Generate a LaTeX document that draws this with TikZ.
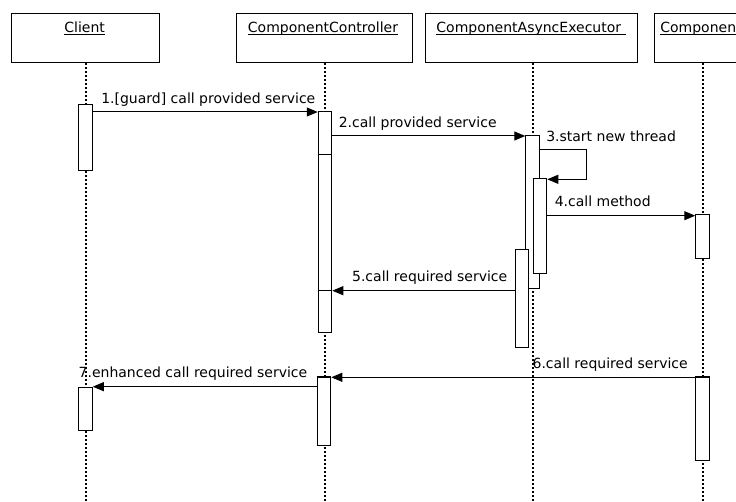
\documentclass[tikz,border=0pt]{standalone}
\usepackage{fontspec}
\setmainfont{DejaVu Sans}
\usepackage{tikz}
\usetikzlibrary{arrows.meta}

\begin{document}
\begin{tikzpicture}[x=1pt, y=-1pt,
	head/.style={draw, line width=1pt, minimum height=49pt, inner sep=0pt},
	act/.style={draw, fill=white, line width=1pt, minimum width=13.5pt, inner sep=0pt},
	life/.style={line width=1.4pt, dash pattern=on 2pt off 2pt},
	msg/.style={line width=1pt, -{Triangle[length=11pt,width=9pt]}},
	lbl/.style={font=\fontsize{14}{16}\selectfont, inner sep=0pt}]
	\useasboundingbox (0,0) rectangle (736,502);
	\clip (0,0) rectangle (736,502);
	% object boxes
	\node[head, minimum width=148pt] (hcl) at (85,38.5) {};
	\node[head, minimum width=176pt] (hcc) at (324,38.5) {};
	\node[head, minimum width=212pt] (hex) at (531,38.5) {};
	\node[head, minimum width=98pt] (hco) at (703,38.5) {};
	\node[lbl, anchor=base] (tcl) at (84.7,33) {\underline{\smash{Client}}};
	\node[lbl, anchor=base] (tcc) at (323,33) {\underline{\smash{ComponentController}}};
	\node[lbl, anchor=base] (tex) at (531,33) {\underline{\smash{ComponentAsyncExecutor\ }}};
	\node[lbl, anchor=base] (tco) at (701,33) {\underline{\smash{Component}}};
	% lifelines
	\coordinate (lcl) at (86,63);
	\coordinate (lcc) at (325,63);
	\coordinate (lex) at (533,63);
	\coordinate (lco) at (703,63);
	\draw[life] (lcl) -- (lcl |- 0,502);
	\draw[life] (lcc) -- (lcc |- 0,502);
	\draw[life] (lex) -- (lex |- 0,502);
	\draw[life] (lco) -- (lco |- 0,502);
	% activations
	\node[act, minimum height=66.7pt] (cl1) at (85.5,137.4) {};
	\node[act, minimum height=43pt] (cl2) at (85.5,408.5) {};
	\node[act, minimum height=43pt] (cc1) at (325,133.5) {};
	\node[act, minimum height=136pt] (cc2) at (325,223) {};
	\node[act, minimum height=42pt] (cc3) at (325,312) {};
	\node[act, minimum height=68pt] (cc4) at (324,411) {};
	\node[act, minimum height=153pt] (exA) at (532.5,212.5) {};
	\node[act, minimum height=95pt] (exB) at (540,226.5) {};
	\node[act, minimum height=98pt] (exC) at (522,299) {};
	\node[act, minimum height=44pt] (co1) at (702.5,237) {};
	\node[act, minimum height=83pt] (co2) at (702.5,418.5) {};
	% messages
	\draw[msg] (cl1.east |- 0,112) -- (cc1.west |- 0,112)
		node[lbl, at start, anchor=base west, xshift=8pt, yshift=8.5pt] {1.[guard] call provided service};
	\draw[msg] (cc1.east |- 0,136) -- (exA.west |- 0,136)
		node[lbl, at start, anchor=base west, xshift=6pt, yshift=8.5pt] {2.call provided service};
	\draw[msg] (exA.east |- 0,149.3)
		node[lbl, anchor=base west, xshift=6pt, yshift=7.6pt] {3.start new thread}
		-- ++(47,0) |- (exB.east |- 0,179.3);
	\draw[msg] (exB.east |- 0,215.7) -- (co1.west |- 0,215.7)
		node[lbl, at start, anchor=base west, xshift=7pt, yshift=9pt] {4.call method};
	\draw[msg] (exC.west |- 0,290.7) -- (cc3.east |- 0,290.7)
		node[lbl, at start, anchor=base east, xshift=-7pt, yshift=9pt] {5.call required service};
	\draw[msg] (co2.west |- 0,377.3) -- (cc4.east |- 0,377.3)
		node[lbl, at start, anchor=base east, xshift=-7pt, yshift=9pt] {6.call required service};
	\draw[msg] (cc4.west |- 0,386.7) -- (cl2.east |- 0,386.7)
		node[lbl, at start, anchor=base east, xshift=-9pt, yshift=9pt] {7.enhanced call required service};
\end{tikzpicture}
\end{document}
